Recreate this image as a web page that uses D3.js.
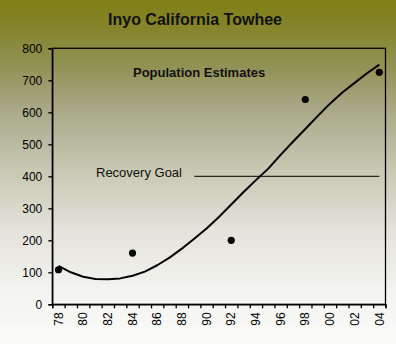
<!DOCTYPE html>
<html>
<head>
<meta charset="utf-8">
<script src="https://cdn.jsdelivr.net/npm/d3@7"></script>
<style>
  html, body { margin: 0; padding: 0; background: #fff; }
  svg { display: block; font-family: "Liberation Sans", Arial, sans-serif; }
</style>
</head>
<body>
<svg id="chart" width="396" height="344"></svg>
<script>
// ---- data ----
const years = ["78","79","80","81","82","83","84","85","86","87","88","89","90","91","92","93","94","95","96","97","98","99","00","01","02","03","04"];
const labelYears = ["78","80","82","84","86","88","90","92","94","96","98","00","02","04"];
const obsYears = ["78","84","92","98","04"];
const obsValues = [108, 160, 200, 640, 725];
const trendValues = [120,100,86,79,78,81,89,102,122,146,174,205,237,273,312,351,388,424,467,508,548,588,627,662,692,722,749];
const yTicks = [0,100,200,300,400,500,600,700,800];
const goalValue = 400;
const goalStart = "89";
const goalEnd = "04";
const titleText = "Inyo California Towhee";
const subtitleText = "Population Estimates";
const goalText = "Recovery Goal";

// ---- layout ----
const W = 396, H = 344;
const L = 52.3, R = 385.5, T = 48.3, B = 304.3;
const svg = d3.select("#chart");

// background gradient
const defs = svg.append("defs");
const grad = defs.append("linearGradient").attr("id","bg").attr("x1",0).attr("y1",0).attr("x2",0).attr("y2",1);
[[0,"#7f7f15"],[0.1,"#868632"],[0.2,"#939358"],[0.33,"#abab8c"],[0.5,"#c9c9b5"],[0.67,"#e3e3da"],[0.84,"#f3f3ef"],[1,"#fbfbfa"]]
  .forEach(([o,c]) => grad.append("stop").attr("offset",o).attr("stop-color",c));
svg.append("rect").attr("width",W).attr("height",H).attr("fill","url(#bg)");

// scales
const x = d3.scaleBand().domain(years).range([L, R]).paddingInner(0).paddingOuter(0);
const cx = d => x(d) + x.bandwidth()/2;
const y = d3.scaleLinear().domain([0, 800]).range([B, T]);
const xEdge = d3.scaleLinear().domain([0, years.length]).range([L, R]);

// plot border
svg.append("rect").attr("x",L).attr("y",T).attr("width",R-L).attr("height",B-T)
  .attr("fill","none").attr("stroke","#000").attr("stroke-width",1.3);

// y axis
const yAxis = svg.append("g").attr("transform",`translate(${L},0)`)
  .call(d3.axisLeft(y).tickValues(yTicks).tickSize(4).tickPadding(6).tickFormat(d3.format("d")));
yAxis.select(".domain").attr("stroke","#000").attr("stroke-width",1.3);
yAxis.selectAll(".tick line").attr("stroke","#000").attr("stroke-width",1.3);
yAxis.selectAll("text").attr("font-size","12px").attr("fill","#000")
  .attr("font-family","Liberation Sans, Arial, sans-serif");

// x axis: tick marks at category boundaries
const xTickG = svg.append("g").attr("transform",`translate(0,${B})`)
  .call(d3.axisBottom(xEdge).tickValues(d3.range(0, years.length+1)).tickSize(4).tickFormat(""));
xTickG.select(".domain").attr("stroke","#000").attr("stroke-width",1.3);
xTickG.selectAll(".tick line").attr("stroke","#000").attr("stroke-width",1.3);

// x axis labels (rotated)
const xLab = svg.append("g").attr("transform",`translate(0,${B})`)
  .call(d3.axisBottom(x).tickValues(labelYears).tickSize(0).tickPadding(0));
xLab.select(".domain").remove();
xLab.selectAll("text")
  .attr("font-size","12px").attr("fill","#000")
  .attr("font-family","Liberation Sans, Arial, sans-serif")
  .attr("transform","rotate(-90)")
  .attr("text-anchor","end")
  .attr("x",-8).attr("y",0).attr("dy","0.35em");

// goal line
svg.append("line")
  .attr("x1", cx(goalStart)).attr("x2", cx(goalEnd))
  .attr("y1", y(goalValue)).attr("y2", y(goalValue))
  .attr("stroke","#000").attr("stroke-width",1);

// trendline
const line = d3.line().x((d,i) => cx(years[i])).y(d => y(d));
svg.append("path").datum(trendValues).attr("d", line)
  .attr("fill","none").attr("stroke","#000").attr("stroke-width",2).attr("stroke-linejoin","round");

// observed points
svg.append("g").selectAll("circle").data(obsValues).join("circle")
  .attr("cx",(d,i) => cx(obsYears[i])).attr("cy", d => y(d)).attr("r",3.6).attr("fill","#000");

// texts
svg.append("text").attr("x",195).attr("y",25).attr("text-anchor","middle")
  .attr("font-size","16px").attr("font-weight","bold").attr("fill","#111").text(titleText);
svg.append("text").attr("x",133).attr("y",77)
  .attr("font-size","13px").attr("font-weight","bold").attr("fill","#111").text(subtitleText);
svg.append("text").attr("x",96).attr("y",177)
  .attr("font-size","13px").attr("fill","#111").text(goalText);
</script>
</body>
</html>
